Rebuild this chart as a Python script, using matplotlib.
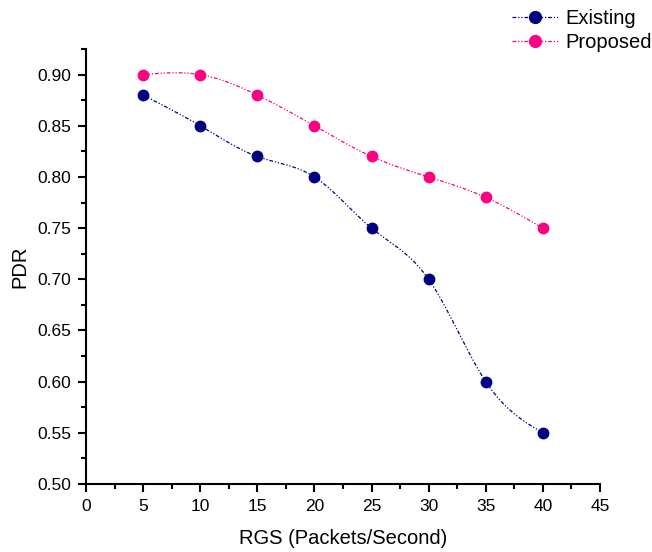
import numpy as np
import matplotlib
matplotlib.use("Agg")
import matplotlib.pyplot as plt
from matplotlib.ticker import MultipleLocator

plt.rcParams['font.family'] = ['Liberation Sans', 'DejaVu Sans']

rgs = [5, 10, 15, 20, 25, 30, 35, 40]
existing = [0.88, 0.85, 0.82, 0.80, 0.75, 0.70, 0.60, 0.55]
proposed = [0.90, 0.90, 0.88, 0.85, 0.82, 0.80, 0.78, 0.75]


def natural_spline(x, y, n=300):
    """Natural cubic spline through (x, y), sampled at n points."""
    x = np.asarray(x, float)
    y = np.asarray(y, float)
    k = len(x)
    h = np.diff(x)
    A = np.zeros((k, k))
    b = np.zeros(k)
    A[0, 0] = A[-1, -1] = 1.0
    for i in range(1, k - 1):
        A[i, i - 1] = h[i - 1]
        A[i, i] = 2 * (h[i - 1] + h[i])
        A[i, i + 1] = h[i]
        b[i] = 3 * ((y[i + 1] - y[i]) / h[i] - (y[i] - y[i - 1]) / h[i - 1])
    c = np.linalg.solve(A, b)
    xs = np.linspace(x[0], x[-1], n)
    idx = np.clip(np.searchsorted(x, xs) - 1, 0, k - 2)
    dx = xs - x[idx]
    hi = h[idx]
    bi = (y[idx + 1] - y[idx]) / hi - hi * (2 * c[idx] + c[idx + 1]) / 3
    di = (c[idx + 1] - c[idx]) / (3 * hi)
    ys = y[idx] + bi * dx + c[idx] * dx ** 2 + di * dx ** 3
    return xs, ys


fig = plt.figure(figsize=(6.52, 5.52), dpi=100)
ax = fig.add_axes([0.1319, 0.1232, 0.7883, 0.7880])

dash = (0, (3, 1.5, 1, 1.5, 1, 1.5))
series = [("Existing", existing, "#000080"), ("Proposed", proposed, "#FF0080")]
handles = []
for name, vals, col in series:
    xs, ys = natural_spline(rgs, vals)
    ax.plot(xs, ys, color=col, lw=0.9, linestyle=dash, zorder=2)
    ax.plot(rgs, vals, 'o', color=col, ms=7.5, zorder=3)
    h, = ax.plot([], [], color=col, lw=0.9, linestyle=dash, marker='o', ms=8.5)
    handles.append(h)

ax.set_xlim(0, 45)
ax.set_ylim(0.5, 0.925)
ax.xaxis.set_major_locator(MultipleLocator(5))
ax.xaxis.set_minor_locator(MultipleLocator(2.5))
ax.yaxis.set_major_locator(MultipleLocator(0.05))
ax.yaxis.set_minor_locator(MultipleLocator(0.025))
ax.yaxis.set_major_formatter(matplotlib.ticker.FormatStrFormatter('%.2f'))

for s in ('top', 'right'):
    ax.spines[s].set_visible(False)
for s in ('left', 'bottom'):
    ax.spines[s].set_linewidth(1.5)
ax.tick_params(which='major', direction='out', length=6, width=1.5,
               labelsize=12.5, pad=4.5)
ax.tick_params(which='minor', direction='out', length=3.5, width=1.5)

ax.set_xlabel("RGS (Packets/Second)", fontsize=14.5, labelpad=11)
ax.set_ylabel("PDR", fontsize=14.5, labelpad=6)

fig.legend(handles, [s[0] for s in series], loc='upper left',
           bbox_to_anchor=(512 / 652, 1 - 9 / 552), frameon=False,
           fontsize=14.5, handlelength=2.3, handletextpad=0.35,
           labelspacing=0.25, borderaxespad=0, borderpad=0)

fig.savefig("out.png", dpi=100)
